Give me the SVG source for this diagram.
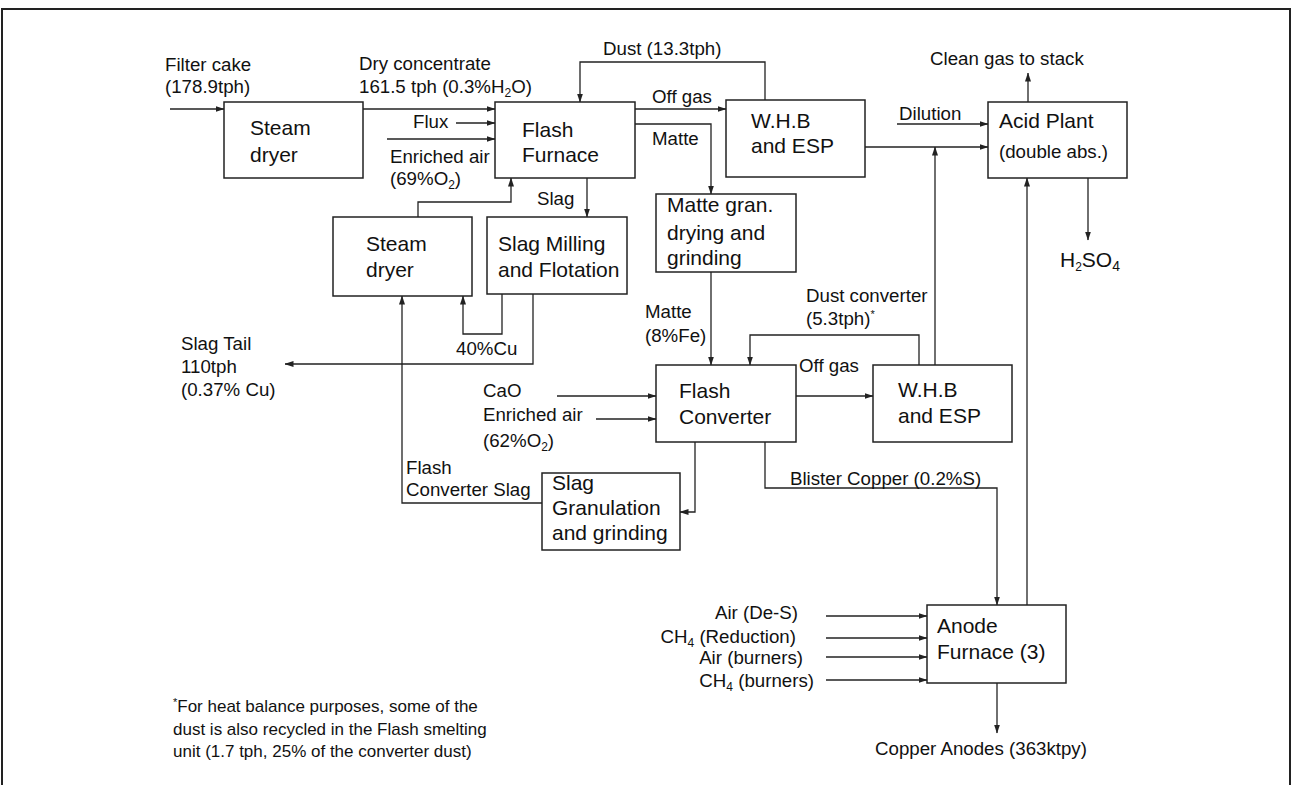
<svg xmlns="http://www.w3.org/2000/svg" width="1292" height="785" viewBox="0 0 1292 785">
<style>
  .box{fill:#fff;stroke:#222;stroke-width:1.5}
  .ln{fill:none;stroke:#222;stroke-width:1.3}
  .t{font-family:"Liberation Sans",Arial,sans-serif;font-size:18.7px;fill:#111}
  .b{font-family:"Liberation Sans",Arial,sans-serif;font-size:21px;fill:#111}
  .f{font-family:"Liberation Sans",Arial,sans-serif;font-size:17px;fill:#111}
  .sub{font-size:12px}
</style>
<defs>
  <marker id="ah" markerWidth="9" markerHeight="7" refX="8.5" refY="3.5" orient="auto" markerUnits="userSpaceOnUse">
    <path d="M0,0.5 L9,3.5 L0,6.5 z" fill="#222"/>
  </marker>
</defs>
<rect width="1292" height="785" fill="#fff"/>
<path d="M2,790 L2,9 L1290,9 L1290,790" fill="none" stroke="#222" stroke-width="2"/>

<g id="connectors">
  <path class="ln" d="M170,109 L224,109" marker-end="url(#ah)"/>
  <path class="ln" d="M363,109 L495,109" marker-end="url(#ah)"/>
  <path class="ln" d="M456,123 L495,123" marker-end="url(#ah)"/>
  <path class="ln" d="M387,139 L495,139" marker-end="url(#ah)"/>
  <path class="ln" d="M765,100 L765,62 L580,62 L580,102" marker-end="url(#ah)"/>
  <path class="ln" d="M635,109 L726,109" marker-end="url(#ah)"/>
  <path class="ln" d="M635,124 L711,124 L711,194" marker-end="url(#ah)"/>
  <path class="ln" d="M865,147 L988,147" marker-end="url(#ah)"/>
  <path class="ln" d="M897,124 L988,124" marker-end="url(#ah)"/>
  <path class="ln" d="M1028,102 L1028,73" marker-end="url(#ah)"/>
  <path class="ln" d="M1088,178 L1088,240" marker-end="url(#ah)"/>
  <path class="ln" d="M587,178 L587,217" marker-end="url(#ah)"/>
  <path class="ln" d="M418,217 L418,202 L511,202 L511,178" marker-end="url(#ah)"/>
  <path class="ln" d="M502,294 L502,334 L463,334 L463,296" marker-end="url(#ah)"/>
  <path class="ln" d="M533,294 L533,364 L285,364" marker-end="url(#ah)"/>
  <path class="ln" d="M542,503 L402,503 L402,296" marker-end="url(#ah)"/>
  <path class="ln" d="M711,272 L711,365" marker-end="url(#ah)"/>
  <path class="ln" d="M919,365 L919,335 L750,335 L750,365" marker-end="url(#ah)"/>
  <path class="ln" d="M796,396 L873,396" marker-end="url(#ah)"/>
  <path class="ln" d="M935,365 L935,147" marker-end="url(#ah)"/>
  <path class="ln" d="M557,396 L656,396" marker-end="url(#ah)"/>
  <path class="ln" d="M596,419 L656,419" marker-end="url(#ah)"/>
  <path class="ln" d="M695,442 L695,512 L680,512" marker-end="url(#ah)"/>
  <path class="ln" d="M765,442 L765,488 L997,488 L997,605" marker-end="url(#ah)"/>
  <path class="ln" d="M1027,605 L1027,178" marker-end="url(#ah)"/>
  <path class="ln" d="M826,616 L927,616" marker-end="url(#ah)"/>
  <path class="ln" d="M826,638 L927,638" marker-end="url(#ah)"/>
  <path class="ln" d="M826,657 L927,657" marker-end="url(#ah)"/>
  <path class="ln" d="M826,680 L927,680" marker-end="url(#ah)"/>
  <path class="ln" d="M997,683 L997,733" marker-end="url(#ah)"/>
</g>

<g id="steam-dryer-1">
  <rect class="box" x="224" y="102" width="139" height="76"/>
  <text class="b" x="250" y="135">Steam</text>
  <text class="b" x="250" y="162">dryer</text>
</g>
<g id="flash-furnace">
  <rect class="box" x="495" y="102" width="140" height="76"/>
  <text class="b" x="522" y="137">Flash</text>
  <text class="b" x="522" y="162">Furnace</text>
</g>
<g id="whb-esp-1">
  <rect class="box" x="726" y="100" width="139" height="77"/>
  <text class="b" x="751" y="128">W.H.B</text>
  <text class="b" x="751" y="153">and ESP</text>
</g>
<g id="acid-plant">
  <rect class="box" x="988" y="102" width="139" height="76"/>
  <text class="b" x="999" y="128">Acid Plant</text>
  <text class="t" x="999" y="158">(double abs.)</text>
</g>
<g id="steam-dryer-2">
  <rect class="box" x="333" y="217" width="139" height="79"/>
  <text class="b" x="366" y="251">Steam</text>
  <text class="b" x="366" y="277">dryer</text>
</g>
<g id="slag-milling">
  <rect class="box" x="487" y="217" width="140" height="77"/>
  <text class="b" x="498" y="251">Slag Milling</text>
  <text class="b" x="498" y="277">and Flotation</text>
</g>
<g id="matte-gran">
  <rect class="box" x="656" y="194" width="140" height="78"/>
  <text class="b" x="667" y="212">Matte gran.</text>
  <text class="b" x="667" y="240">drying and</text>
  <text class="b" x="667" y="265">grinding</text>
</g>
<g id="flash-converter">
  <rect class="box" x="656" y="365" width="140" height="77"/>
  <text class="b" x="679" y="398">Flash</text>
  <text class="b" x="679" y="424">Converter</text>
</g>
<g id="whb-esp-2">
  <rect class="box" x="873" y="365" width="139" height="77"/>
  <text class="b" x="898" y="397">W.H.B</text>
  <text class="b" x="898" y="423">and ESP</text>
</g>
<g id="slag-granulation">
  <rect class="box" x="542" y="473" width="138" height="77"/>
  <text class="b" x="552" y="490">Slag</text>
  <text class="b" x="552" y="515">Granulation</text>
  <text class="b" x="552" y="540">and grinding</text>
</g>
<g id="anode-furnace">
  <rect class="box" x="927" y="605" width="139" height="78"/>
  <text class="b" x="937" y="633">Anode</text>
  <text class="b" x="937" y="659">Furnace (3)</text>
</g>

<g id="labels">
  <text class="t" x="165" y="71">Filter cake</text>
  <text class="t" x="165" y="93">(178.9tph)</text>
  <text class="t" x="359" y="70">Dry concentrate</text>
  <text class="t" x="359" y="93">161.5 tph (0.3%H<tspan class="sub" dy="4">2</tspan><tspan dy="-4">O)</tspan></text>
  <text class="t" x="413" y="128">Flux</text>
  <text class="t" x="390" y="163">Enriched air</text>
  <text class="t" x="390" y="185">(69%O<tspan class="sub" dy="4">2</tspan><tspan dy="-4">)</tspan></text>
  <text class="t" x="603" y="55">Dust (13.3tph)</text>
  <text class="t" x="652" y="103">Off gas</text>
  <text class="t" x="652" y="145">Matte</text>
  <text class="t" x="930" y="65">Clean gas to stack</text>
  <text class="t" x="899" y="120">Dilution</text>
  <text class="b" x="1060" y="267">H<tspan class="sub" font-size="14" dy="4">2</tspan><tspan dy="-4">SO</tspan><tspan font-size="14" dy="4">4</tspan></text>
  <text class="t" x="537" y="205">Slag</text>
  <text class="t" x="456" y="355">40%Cu</text>
  <text class="t" x="181" y="350">Slag Tail</text>
  <text class="t" x="181" y="373">110tph</text>
  <text class="t" x="181" y="396">(0.37% Cu)</text>
  <text class="t" x="645" y="318">Matte</text>
  <text class="t" x="645" y="342">(8%Fe)</text>
  <text class="t" x="806" y="302">Dust converter</text>
  <text class="t" x="806" y="325">(5.3tph)<tspan font-size="11" dy="-7">*</tspan></text>
  <text class="t" x="799" y="372">Off gas</text>
  <text class="t" x="483" y="397">CaO</text>
  <text class="t" x="483" y="421">Enriched air</text>
  <text class="t" x="483" y="447">(62%O<tspan class="sub" dy="4">2</tspan><tspan dy="-4">)</tspan></text>
  <text class="t" x="406" y="474">Flash</text>
  <text class="t" x="406" y="496">Converter Slag</text>
  <text class="t" x="790" y="485">Blister Copper (0.2%S)</text>
  <text class="t" x="798" y="619" text-anchor="end">Air (De-S)</text>
  <text class="t" x="796" y="643" text-anchor="end">CH<tspan class="sub" dy="4">4</tspan><tspan dy="-4"> (Reduction)</tspan></text>
  <text class="t" x="803" y="664" text-anchor="end">Air (burners)</text>
  <text class="t" x="814" y="687" text-anchor="end">CH<tspan class="sub" dy="4">4</tspan><tspan dy="-4"> (burners)</tspan></text>
  <text class="t" x="875" y="755">Copper Anodes (363ktpy)</text>
  <text class="f" x="173" y="712"><tspan font-size="11" dy="-6">*</tspan><tspan dy="6">For heat balance purposes, some of the</tspan></text>
  <text class="f" x="173" y="735">dust is also recycled in the Flash smelting</text>
  <text class="f" x="173" y="757">unit (1.7 tph, 25% of the converter dust)</text>
</g>
</svg>
